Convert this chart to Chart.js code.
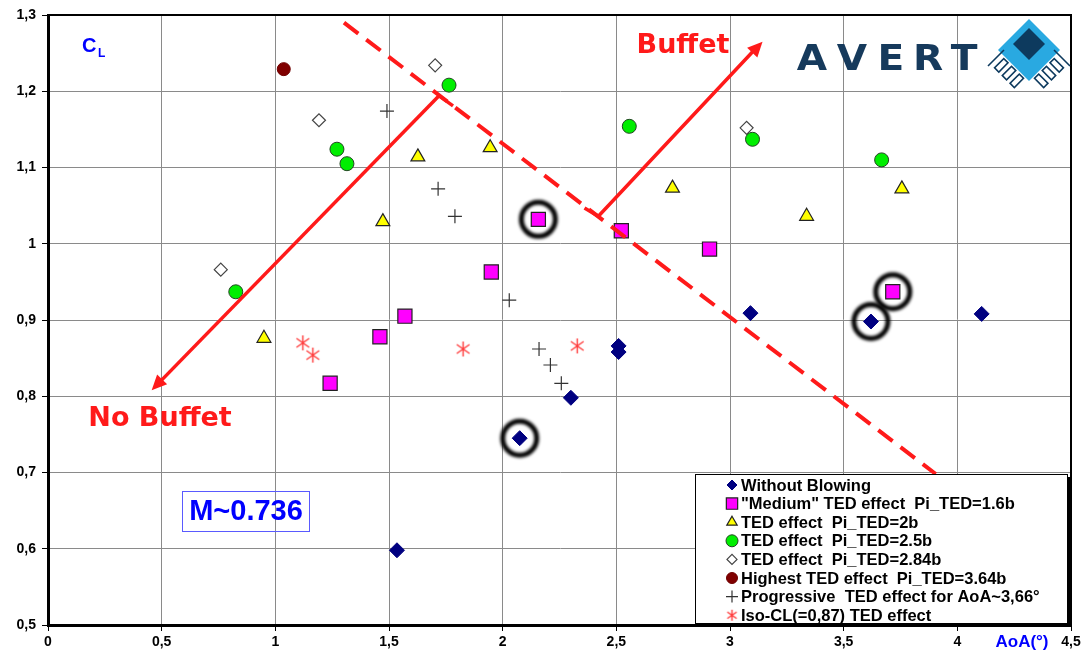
<!DOCTYPE html>
<html>
<head>
<meta charset="utf-8">
<script src="https://cdn.jsdelivr.net/npm/chart.js@4.4.1/dist/chart.umd.min.js"></script>
<style>
  html, body { margin: 0; padding: 0; background: #fff; }
  #wrap { width: 1086px; height: 655px; }
</style>
</head>
<body>
<div id="wrap"><canvas id="c" width="1086" height="655"></canvas></div>
<script>
// values: [AoA (deg), CL]
const withoutBlowing = [[1.535, 0.598], [2.075, 0.745], [2.30, 0.798], [2.51, 0.858], [2.51, 0.866], [3.09, 0.909], [3.62, 0.898], [4.107, 0.908]];
const mediumTed = [[1.241, 0.817], [1.46, 0.878], [1.57, 0.905], [1.95, 0.963], [2.157, 1.032], [2.522, 1.017], [2.91, 0.993], [3.716, 0.937]];
const ted2b = [[0.95, 0.876], [1.473, 1.029], [1.627, 1.114], [1.945, 1.126], [2.747, 1.073], [3.337, 1.036], [3.756, 1.072]];
const ted25b = [[0.826, 0.937], [1.271, 1.124], [1.315, 1.105], [1.764, 1.208], [2.557, 1.154], [3.099, 1.137], [3.667, 1.110]];
const ted284b = [[0.76, 0.966], [1.192, 1.162], [1.703, 1.234], [3.073, 1.152]];
const highestTed = [[1.037, 1.229]];
const progressive = [[1.491, 1.174], [1.716, 1.072], [1.79, 1.036], [2.029, 0.926], [2.16, 0.862], [2.21, 0.841], [2.258, 0.817]];
const isoCl = [[1.121, 0.870], [1.165, 0.854], [1.826, 0.862], [2.328, 0.866]];

// circled points
const halos = [[2.157, 1.032], [2.075, 0.745], [3.62, 0.898], [3.716, 0.937]];

// buffet boundary and arrows (data coords)
const boundary = [[1.302, 1.290], [3.905, 0.698]];
const noBuffetArrow = [[1.72, 1.194], [0.456, 0.808]];
const buffetArrow = [[2.36, 1.047], [2.421, 1.036], [3.143, 1.265]];

const xTicks = [0, 0.5, 1, 1.5, 2, 2.5, 3, 3.5, 4, 4.5];
const yTicks = [0.5, 0.6, 0.7, 0.8, 0.9, 1, 1.1, 1.2, 1.3];

const fmt = (v) => String(Math.round(v * 10) / 10).replace(".", ",");
const toPts = (arr) => arr.map(([x, y]) => ({ x, y }));

function makeStar(size, color) {
    const c = document.createElement("canvas");
    c.width = c.height = size;
    const g = c.getContext("2d");
    const m = size / 2, r = size / 2 - 1, d = r * 0.85;
    g.strokeStyle = color;
    g.lineWidth = 1.4;
    g.beginPath();
    g.moveTo(m, m - r); g.lineTo(m, m + r);
    g.moveTo(m - d, m - d * 0.7); g.lineTo(m + d, m + d * 0.7);
    g.moveTo(m - d, m + d * 0.7); g.lineTo(m + d, m - d * 0.7);
    g.stroke();
    return c;
}
const starBig = makeStar(17, "#ff3a3a");
const starSmall = makeStar(13, "#ff3a3a");

const datasets = [
    { label: "Without Blowing", data: toPts(withoutBlowing), pointStyle: "rectRot", pointRadius: 7.5, backgroundColor: "#000080", borderColor: "#000080", borderWidth: 1, legendR: 5 },
    { label: "\"Medium\" TED effect  Pi_TED=1.6b", data: toPts(mediumTed), pointStyle: "rect", pointRadius: 10, backgroundColor: "#ff00ff", borderColor: "#222", borderWidth: 1.2, legendR: 8 },
    { label: "TED effect  Pi_TED=2b", data: toPts(ted2b), pointStyle: "triangle", pointRadius: 8, backgroundColor: "#ffff00", borderColor: "#222", borderWidth: 1.2, legendR: 6 },
    { label: "TED effect  Pi_TED=2.5b", data: toPts(ted25b), pointStyle: "circle", pointRadius: 7, backgroundColor: "#00ee00", borderColor: "#224422", borderWidth: 1, legendR: 6 },
    { label: "TED effect  Pi_TED=2.84b", data: toPts(ted284b), pointStyle: "rectRot", pointRadius: 6.5, backgroundColor: "#ffffff", borderColor: "#444", borderWidth: 1.2, legendR: 5 },
    { label: "Highest TED effect  Pi_TED=3.64b", data: toPts(highestTed), pointStyle: "circle", pointRadius: 6.5, backgroundColor: "#800000", borderColor: "#700000", borderWidth: 1, legendR: 5.5 },
    { label: "Progressive  TED effect for AoA~3,66°", data: toPts(progressive), pointStyle: "cross", pointRadius: 7, backgroundColor: "#333", borderColor: "#333", borderWidth: 1.2, legendR: 6 },
    { label: "Iso-CL(=0,87) TED effect", data: toPts(isoCl), pointStyle: starBig, pointRadius: 8, backgroundColor: "#ff3a3a", borderColor: "#ff3a3a", borderWidth: 1, legendStyle: starSmall, legendR: 6 },
];
datasets.forEach((ds) => { ds.pointHoverRadius = ds.pointRadius; });

function arrowHead(ctx, x1, y1, x2, y2, len, half) {
    const a = Math.atan2(y2 - y1, x2 - x1);
    ctx.beginPath();
    ctx.moveTo(x2, y2);
    ctx.lineTo(x2 - len * Math.cos(a) + half * Math.sin(a), y2 - len * Math.sin(a) - half * Math.cos(a));
    ctx.lineTo(x2 - len * Math.cos(a) - half * Math.sin(a), y2 - len * Math.sin(a) + half * Math.cos(a));
    ctx.closePath();
    ctx.fill();
}

function drawLogo(ctx) {
    ctx.save();
    ctx.fillStyle = "#163a5c";
    ctx.font = "bold 35px \"DejaVu Sans\"";
    ctx.textAlign = "center";
    ctx.textBaseline = "alphabetic";
    const cx = [812, 852, 891, 928, 964];
    "AVERT".split("").forEach((ch, i) => {
        ctx.save();
        ctx.translate(cx[i], 70);
        ctx.scale(1.12, 1);
        ctx.fillText(ch, 0, 0);
        ctx.restore();
    });
    // icon: light blue diamond, dark core, two combs of fingers
    ctx.fillStyle = "#29a9e1";
    ctx.beginPath();
    ctx.moveTo(1029, 19); ctx.lineTo(1060, 50); ctx.lineTo(1029, 81); ctx.lineTo(998, 50);
    ctx.closePath(); ctx.fill();
    ctx.fillStyle = "#0d3a5e";
    ctx.beginPath();
    ctx.moveTo(1029, 28); ctx.lineTo(1045, 44); ctx.lineTo(1029, 60); ctx.lineTo(1013, 44);
    ctx.closePath(); ctx.fill();
    ctx.strokeStyle = "#0d3a5e";
    ctx.lineWidth = 1.6;
    [0.3, 0.55, 0.8].forEach((t) => {
        // left comb: fingers stick out down-left from lower-left edge
        ctx.save();
        ctx.translate(998 + 31 * t, 50 + 31 * t);
        ctx.rotate(-Math.PI / 4);
        ctx.fillStyle = "#fff";
        ctx.fillRect(-15, -3, 13, 6);
        ctx.strokeRect(-15, -3, 13, 6);
        ctx.restore();
        // right comb: mirrored
        ctx.save();
        ctx.translate(1060 - 31 * t, 50 + 31 * t);
        ctx.rotate(Math.PI / 4);
        ctx.fillStyle = "#fff";
        ctx.fillRect(2, -3, 13, 6);
        ctx.strokeRect(2, -3, 13, 6);
        ctx.restore();
    });
    ctx.beginPath();
    ctx.moveTo(988, 66); ctx.lineTo(1004, 50);
    ctx.moveTo(1070, 66); ctx.lineTo(1054, 50);
    ctx.stroke();
    ctx.restore();
}

const decor = {
    id: "decor",
    beforeDatasetsDraw(chart) {
        const { ctx, chartArea: a, scales: { x, y } } = chart;
        ctx.save();
        // frame top/right
        ctx.strokeStyle = "#000";
        ctx.lineWidth = 2;
        ctx.beginPath();
        ctx.moveTo(a.left, a.top); ctx.lineTo(a.right, a.top); ctx.lineTo(a.right, a.bottom);
        ctx.stroke();
        // halos
        ctx.filter = "blur(1.5px)";
        ctx.strokeStyle = "#000";
        ctx.lineWidth = 5;
        halos.forEach(([hx, hy]) => {
            ctx.beginPath();
            ctx.arc(x.getPixelForValue(hx), y.getPixelForValue(hy), 17, 0, Math.PI * 2);
            ctx.stroke();
        });
        ctx.restore();
    },
    afterDatasetsDraw(chart) {
        const { ctx, scales: { x, y } } = chart;
        const px = ([vx, vy]) => [x.getPixelForValue(vx), y.getPixelForValue(vy)];
        ctx.save();
        ctx.strokeStyle = "#ff1a1a";
        ctx.fillStyle = "#ff1a1a";
        ctx.lineCap = "butt";

        // dashed boundary
        const [b0, b1] = boundary.map(px);
        ctx.lineWidth = 4;
        ctx.setLineDash([18, 10]);
        ctx.beginPath(); ctx.moveTo(...b0); ctx.lineTo(...b1); ctx.stroke();
        ctx.setLineDash([]);

        // no buffet arrow
        const [n0, n1] = noBuffetArrow.map(px);
        ctx.lineWidth = 3.5;
        ctx.beginPath(); ctx.moveTo(...n0); ctx.lineTo(n1[0] + 8, n1[1] - 8); ctx.stroke();
        arrowHead(ctx, n0[0], n0[1], n1[0], n1[1], 15, 7);
        // little tail along boundary at the peak
        ctx.beginPath(); ctx.moveTo(...n0); ctx.lineTo(n0[0] + 14, n0[1] + 10); ctx.stroke();

        // buffet arrow
        const bp = buffetArrow.map(px);
        ctx.beginPath(); ctx.moveTo(...bp[0]); ctx.lineTo(...bp[1]); ctx.lineTo(bp[2][0] - 8, bp[2][1] + 8); ctx.stroke();
        arrowHead(ctx, bp[1][0], bp[1][1], bp[2][0], bp[2][1], 15, 7);

        // red labels
        ctx.font = "bold 27px \"Comic Sans MS\", \"DejaVu Sans\", sans-serif";
        ctx.textAlign = "center";
        ctx.textBaseline = "middle";
        ctx.fillText("No Buffet", 160, 419);
        ctx.fillText("Buffet", 683, 46);

        // C_L
        ctx.fillStyle = "#0000ff";
        ctx.textAlign = "left";
        ctx.textBaseline = "alphabetic";
        ctx.font = "bold 20px \"Liberation Sans\", Arial, sans-serif";
        ctx.fillText("C", 82, 52);
        ctx.font = "bold 12px \"Liberation Sans\", Arial, sans-serif";
        ctx.fillText("L", 98, 57);

        // Mach box
        ctx.strokeStyle = "#5a5aff";
        ctx.lineWidth = 1;
        ctx.strokeRect(182.5, 491.5, 127, 40);
        ctx.font = "bold 29px \"Liberation Sans\", Arial, sans-serif";
        ctx.textAlign = "center";
        ctx.textBaseline = "middle";
        ctx.fillText("M~0.736", 246, 512);

        // axis title
        ctx.font = "bold 17px \"Liberation Sans\", Arial, sans-serif";
        ctx.fillText("AoA(°)", 1022, 642);

        // legend box
        const L = { l: 695, t: 474, r: 1067, b: 623 };
        ctx.fillStyle = "#000";
        ctx.fillRect(L.l + 3, L.t + 3, L.r - L.l, L.b - L.t);
        ctx.fillStyle = "#fff";
        ctx.fillRect(L.l, L.t, L.r - L.l, L.b - L.t);
        ctx.strokeStyle = "#000";
        ctx.lineWidth = 1;
        ctx.strokeRect(L.l + 0.5, L.t + 0.5, L.r - L.l, L.b - L.t);

        ctx.font = "bold 16.5px \"Liberation Sans\", Arial, sans-serif";
        ctx.textAlign = "left";
        ctx.textBaseline = "middle";
        chart.data.datasets.forEach((ds, i) => {
            const ly = 485 + i * 18.6;
            ctx.fillStyle = ds.backgroundColor;
            ctx.strokeStyle = ds.borderColor;
            ctx.lineWidth = ds.borderWidth;
            Chart.helpers.drawPoint(ctx, { pointStyle: ds.legendStyle || ds.pointStyle, radius: ds.legendR, rotation: 0, borderWidth: ds.borderWidth }, 732, ly);
            ctx.fillStyle = "#000";
            ctx.fillText(ds.label, 741, ly + 1);
        });

        drawLogo(ctx);
        ctx.restore();
    },
};

const tickFont = { family: "\"Liberation Sans\", Arial, sans-serif", size: 14, weight: "bold" };

new Chart(document.getElementById("c"), {
    type: "scatter",
    data: { datasets },
    options: {
        responsive: false,
        animation: false,
        devicePixelRatio: 1,
        layout: { padding: { top: 15, right: 15, left: 0, bottom: 0 } },
        plugins: { legend: { display: false }, tooltip: { enabled: false } },
        events: [],
        scales: {
            x: {
                type: "linear",
                min: xTicks[0],
                max: xTicks[xTicks.length - 1],
                afterBuildTicks: (s) => { s.ticks = xTicks.map((v) => ({ value: v })); },
                ticks: { callback: fmt, font: tickFont, color: "#000", padding: 3, maxRotation: 0 },
                grid: { color: "#8a8a8a", lineWidth: 1, tickLength: 6, tickColor: "#000" },
                border: { color: "#000", width: 3 },
                afterFit: (s) => { s.height = 30; },
            },
            y: {
                type: "linear",
                min: yTicks[0],
                max: yTicks[yTicks.length - 1],
                afterBuildTicks: (s) => { s.ticks = yTicks.map((v) => ({ value: v })); },
                ticks: { callback: fmt, font: tickFont, color: "#000", padding: 6 },
                grid: { color: "#8a8a8a", lineWidth: 1, tickLength: 6, tickColor: "#000" },
                border: { color: "#000", width: 3 },
                afterFit: (s) => { s.width = 48; },
            },
        },
    },
    plugins: [decor],
});
</script>
</body>
</html>
